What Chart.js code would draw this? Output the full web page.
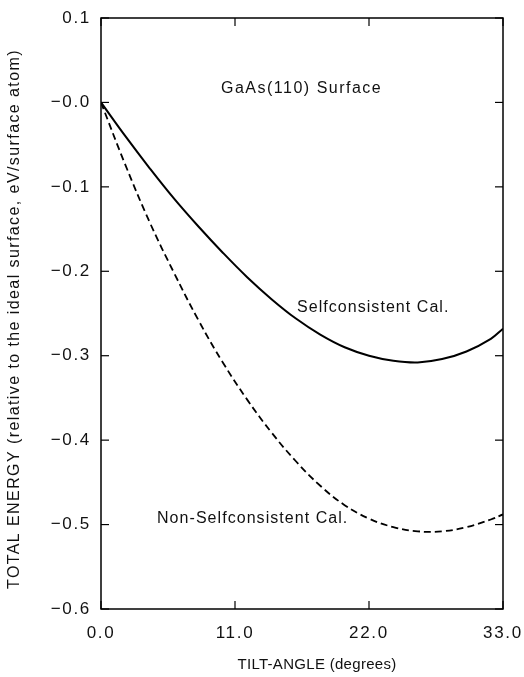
<!DOCTYPE html>
<html>
<head>
<meta charset="utf-8">
<script src="https://cdn.jsdelivr.net/npm/chart.js@4.4.1/dist/chart.umd.min.js"></script>
<style>
html,body{margin:0;padding:0;background:#fff;}
#wrap{width:524px;height:677px;position:relative;}
</style>
</head>
<body>
<div id="wrap"><canvas id="c" width="524" height="677"></canvas></div>
<script>
// Tilt angle (degrees)
const tiltAngles = [0, 2, 4, 6, 8, 10, 12, 14, 16, 18, 20, 22, 24, 26, 28, 30, 32, 33];
// Total energy, selfconsistent calculation (eV/surface atom)
const selfconsistent = [0, -0.040, -0.078, -0.114, -0.147, -0.178, -0.207, -0.233, -0.256, -0.275, -0.290, -0.300, -0.306, -0.308, -0.304, -0.295, -0.280, -0.268];
// Total energy, non-selfconsistent calculation (eV/surface atom)
const nonSelfconsistent = [0, -0.074, -0.142, -0.202, -0.258, -0.308, -0.352, -0.391, -0.425, -0.454, -0.477, -0.493, -0.503, -0.508, -0.508, -0.503, -0.494, -0.488];
const xTicks = [0, 11, 22, 33];
const yTicks = [0.1, 0.0, -0.1, -0.2, -0.3, -0.4, -0.5, -0.6];

const FONT = '"Liberation Sans", Arial, Helvetica, sans-serif';

function pts(xs, ys){ return xs.map((x,i)=>({x:x, y:ys[i]})); }

function spaced(ctx, text, x, y, spacing){
  ctx.letterSpacing = spacing + 'px';
  ctx.fillText(text, x, y);
  ctx.letterSpacing = '0px';
}

const decor = {
  id: 'decor',
  beforeLayout(chart){ chart.ctx.letterSpacing = '1.7px'; },
  beforeDraw(chart){ chart.ctx.letterSpacing = '1.7px'; },
  afterDraw(chart){
    const ctx = chart.ctx, a = chart.chartArea;
    const xs = chart.scales.x, ys = chart.scales.y;
    ctx.save();
    ctx.letterSpacing = '0px';
    ctx.strokeStyle = '#000';
    ctx.lineWidth = 1.5;
    ctx.strokeRect(a.left, a.top, a.right - a.left, a.bottom - a.top);
    ctx.lineWidth = 1.2;
    const tl = 8;
    yTicks.forEach(v=>{
      const p = ys.getPixelForValue(v);
      ctx.beginPath(); ctx.moveTo(a.left, p); ctx.lineTo(a.left + tl, p); ctx.stroke();
      ctx.beginPath(); ctx.moveTo(a.right, p); ctx.lineTo(a.right - tl, p); ctx.stroke();
    });
    xTicks.forEach(v=>{
      const p = xs.getPixelForValue(v);
      ctx.beginPath(); ctx.moveTo(p, a.bottom); ctx.lineTo(p, a.bottom - tl); ctx.stroke();
      ctx.beginPath(); ctx.moveTo(p, a.top); ctx.lineTo(p, a.top + tl); ctx.stroke();
    });
    ctx.fillStyle = '#111';
    ctx.font = '16px ' + FONT;
    ctx.textBaseline = 'middle';
    ctx.textAlign = 'left';
    spaced(ctx, 'GaAs(110) Surface', 221, 89, 1.5);
    spaced(ctx, 'Selfconsistent Cal.', 297, 308, 1.05);
    spaced(ctx, 'Non-Selfconsistent Cal.', 157, 519, 1.05);
    // axis titles
    ctx.textAlign = 'center';
    ctx.font = '15px ' + FONT;
    spaced(ctx, 'TILT-ANGLE (degrees)', 317, 665, 0.3);
    ctx.save();
    ctx.translate(18.5, 319);
    ctx.rotate(-Math.PI/2);
    ctx.textBaseline = 'alphabetic';
    ctx.font = '16px ' + FONT;
    const t = 'TOTAL ENERGY (relative to the ideal surface, eV/surface atom)';
    const w = ctx.measureText(t).width;
    const sp = Math.max(0, (540 - w) / t.length);
    spaced(ctx, t, 0, 0, sp);
    ctx.restore();
    ctx.restore();
  }
};

new Chart(document.getElementById('c'), {
  type: 'line',
  data: {
    datasets: [
      {
        label: 'Selfconsistent Cal.',
        data: pts(tiltAngles, selfconsistent),
        borderColor: '#000', borderWidth: 2, pointRadius: 0,
        tension: 0.4, fill: false
      },
      {
        label: 'Non-Selfconsistent Cal.',
        data: pts(tiltAngles, nonSelfconsistent),
        borderColor: '#000', borderWidth: 1.8, borderDash: [7, 4], pointRadius: 0,
        tension: 0.4, fill: false
      }
    ]
  },
  options: {
    responsive: false, animation: false,
    devicePixelRatio: 1,
    layout: { padding: { left: 0, right: 21, top: 18, bottom: 0 } },
    plugins: { legend: { display: false }, tooltip: { enabled: false } },
    scales: {
      x: {
        type: 'linear', min: 0, max: 33,
        afterBuildTicks(s){ s.ticks = xTicks.map(v=>({value:v})); },
        afterFit(s){ s.height = 68; s.paddingLeft = 0; s.paddingRight = 0; },
        grid: { display: false, drawTicks: false },
        border: { display: false },
        ticks: {
          padding: 14, color: '#111', font: { family: FONT, size: 17 },
          maxRotation: 0,
          callback: v => v.toFixed(1)
        }
      },
      y: {
        type: 'linear', min: -0.6, max: 0.1,
        afterBuildTicks(s){ s.ticks = yTicks.map(v=>({value:v})); },
        afterFit(s){ s.width = 101; s.paddingTop = 0; s.paddingBottom = 0; },
        grid: { display: false, drawTicks: false },
        border: { display: false },
        ticks: {
          padding: 10, color: '#111', font: { family: FONT, size: 17 },
          callback: v => {
            const r = Math.round(v*10)/10;
            if (r > 0) return r.toFixed(1);
            return '\u2212' + Math.abs(r).toFixed(1);
          }
        }
      }
    }
  },
  plugins: [decor]
});
</script>
</body>
</html>
